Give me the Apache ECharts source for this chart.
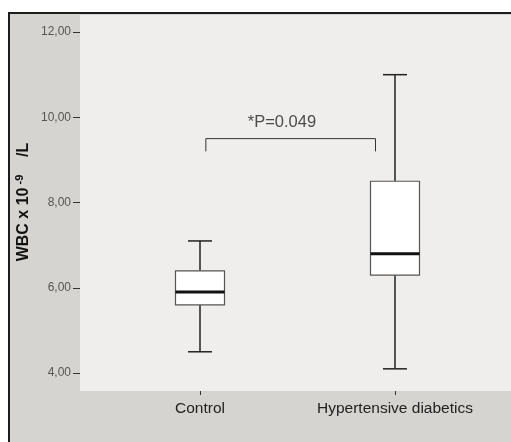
<!DOCTYPE html>
<html>
<head>
<meta charset="utf-8">
<script src="https://cdn.jsdelivr.net/npm/echarts@6/dist/echarts.min.js"></script>
<style>
  html, body { margin: 0; padding: 0; background: #fff; }
  #main { width: 511px; height: 442px; }
</style>
</head>
<body>
<div id="main"></div>
<script>
// groups and their box statistics (WBC x 10^9/L)
let categories = ['Control', 'Hypertensive diabetics'];
let lowWhisker = [4.5, 4.1];
let lowerQuartile = [5.6, 6.3];
let medians = [5.9, 6.8];
let upperQuartile = [6.4, 8.5];
let highWhisker = [7.1, 11.0];

let yTicks = [4, 6, 8, 10, 12];

// significance bracket between the groups
let bracketX = [0.03, 0.9];
let bracketLow = 9.2;
let bracketHigh = 9.5;
let pText = '*P=0.049';
let pPos = [0.42, 9.88];

let boxData = categories.map(function (c, i) {
  return [i, lowWhisker[i], lowerQuartile[i], medians[i], upperQuartile[i], highWhisker[i]];
});

let bracketData = [
  [bracketX[0], bracketLow],
  [bracketX[0], bracketHigh],
  [bracketX[1], bracketHigh],
  [bracketX[1], bracketLow]
];

function renderBox(params, api) {
  let x = api.value(0);
  let lo = api.coord([x, api.value(1)]);
  let q1 = api.coord([x, api.value(2)]);
  let md = api.coord([x, api.value(3)]);
  let q3 = api.coord([x, api.value(4)]);
  let hi = api.coord([x, api.value(5)]);
  let cx = lo[0];
  let bw = 49, cw = 24;
  let whisker = {stroke: '#222', lineWidth: 1.5};
  return {
    type: 'group',
    children: [
      {type: 'line', shape: {x1: cx, y1: lo[1], x2: cx, y2: q1[1]}, style: whisker},
      {type: 'line', shape: {x1: cx, y1: q3[1], x2: cx, y2: hi[1]}, style: whisker},
      {type: 'line', shape: {x1: cx - cw / 2, y1: lo[1], x2: cx + cw / 2, y2: lo[1]}, style: whisker},
      {type: 'line', shape: {x1: cx - cw / 2, y1: hi[1], x2: cx + cw / 2, y2: hi[1]}, style: whisker},
      {type: 'rect', shape: {x: cx - bw / 2, y: q3[1], width: bw, height: q1[1] - q3[1]},
        style: {fill: '#fff', stroke: '#555', lineWidth: 1.2}},
      {type: 'line', shape: {x1: cx - bw / 2, y1: md[1], x2: cx + bw / 2, y2: md[1]},
        style: {stroke: '#111', lineWidth: 3}}
    ]
  };
}

let chart = echarts.init(document.getElementById('main'));
chart.setOption({
  backgroundColor: '#fff',
  animation: false,
  textStyle: {fontFamily: 'Liberation Sans, Arial, sans-serif'},
  graphic: [
    {
      type: 'rect', z: -10,
      shape: {x: 9, y: 13, width: 520, height: 440},
      style: {fill: '#d5d4d0', stroke: '#1c1c1c', lineWidth: 2}
    },
    {
      type: 'text', z: 10,
      x: 24, y: 202, rotation: Math.PI / 2,
      style: {
        text: '{a|WBC x 10}{s| -9}{a|    /L}',
        align: 'center', verticalAlign: 'middle',
        rich: {
          a: {fontSize: 16, fontWeight: 'bold', fill: '#111', lineHeight: 20, fontFamily: 'Liberation Sans, Arial'},
          s: {fontSize: 11, fontWeight: 'bold', fill: '#111', lineHeight: 20, verticalAlign: 'top', fontFamily: 'Liberation Sans, Arial'}
        }
      }
    }
  ],
  grid: {
    left: 80, right: 0, top: 15, bottom: 51,
    show: true, backgroundColor: '#efeeec', borderWidth: 0
  },
  xAxis: {
    type: 'value',
    min: -0.6154,
    max: 1.5949,
    axisLine: {show: false, onZero: false},
    splitLine: {show: false},
    axisTick: {show: true, length: 4, customValues: [0, 1], lineStyle: {color: '#333'}},
    axisLabel: {
      customValues: [0, 1], margin: 10,
      fontSize: 15.5, color: '#222',
      formatter: function (v) { return categories[Math.round(v)]; }
    }
  },
  yAxis: {
    type: 'value',
    min: 3.58,
    max: 12.4,
    axisLine: {show: false, onZero: false},
    splitLine: {show: false},
    axisTick: {show: true, length: 7, customValues: yTicks, lineStyle: {color: '#333'}},
    axisLabel: {
      customValues: yTicks, margin: 9,
      fontSize: 12, color: '#555',
      formatter: function (v) { return v.toFixed(2).replace('.', ','); }
    }
  },
  series: [
    {
      type: 'custom',
      renderItem: renderBox,
      data: boxData,
      z: 3
    },
    {
      type: 'line',
      data: bracketData,
      symbol: 'none',
      lineStyle: {color: '#333', width: 1},
      z: 2
    },
    {
      type: 'scatter',
      data: [pPos],
      symbolSize: 1,
      itemStyle: {color: 'rgba(0,0,0,0)'},
      label: {show: true, position: 'inside', formatter: pText, fontSize: 16.5, color: '#222'},
      z: 4
    }
  ]
});
</script>
</body>
</html>
